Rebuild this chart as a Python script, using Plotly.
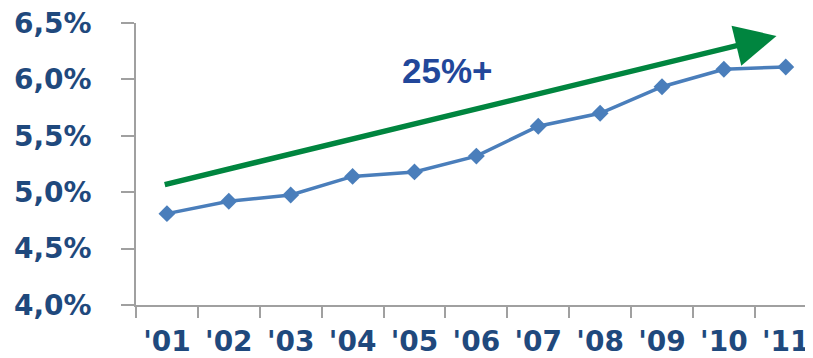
import plotly.graph_objects as go

years = ["'01", "'02", "'03", "'04", "'05", "'06", "'07", "'08", "'09", "'10", "'11"]
share = [4.81, 4.92, 4.975, 5.14, 5.18, 5.32, 5.585, 5.70, 5.935, 6.09, 6.11]
y_tickvals = [4.0, 4.5, 5.0, 5.5, 6.0, 6.5]
y_ticktext = ["4,0%", "4,5%", "5,0%", "5,5%", "6,0%", "6,5%"]

arrow_tail = (-0.06, 5.064)
arrow_tip = (9.85, 6.385)
label_text = "25%+"
label_pos = (4.54, 6.08)

label_color = "#1F497D"
fig = go.Figure()
fig.add_trace(go.Scatter(
    x=years, y=share, mode="lines+markers",
    line=dict(color="#4A7EBB", width=3.5),
    marker=dict(symbol="diamond", size=13, color="#4A7EBB"),
    showlegend=False, hoverinfo="skip", cliponaxis=False,
))

fig.add_annotation(
    x=arrow_tip[0], y=arrow_tip[1], ax=arrow_tail[0], ay=arrow_tail[1],
    xref="x", yref="y", axref="x", ayref="y",
    showarrow=True, arrowhead=2, arrowsize=1.5, arrowwidth=5.5,
    arrowcolor="#00853F", standoff=0, text="",
)
fig.add_annotation(
    x=label_pos[0], y=label_pos[1], xref="x", yref="y", showarrow=False,
    text="<b>" + label_text + "</b>",
    font=dict(family="Liberation Sans, Arial", size=35, color="#22479A"),
)

fig.update_xaxes(
    type="category", range=[-0.5, 10.44], automargin=False,
    showline=True, linecolor="#A0A0A0", linewidth=1.5,
    ticks="outside", ticklen=11, tickcolor="#A0A0A0", tickwidth=1.5,
    tickson="boundaries", showgrid=False, zeroline=False,
    tickfont=dict(family="DejaVu Sans", size=28, color=label_color, weight="bold"),
    ticklabelstandoff=11, ticklabeloverflow="allow",
)
fig.update_yaxes(
    range=[4.0, 6.5], tickvals=y_tickvals, ticktext=y_ticktext, automargin=False,
    showline=True, linecolor="#A0A0A0", linewidth=1.5,
    ticks="outside", ticklen=13, tickcolor="#A0A0A0", tickwidth=1.5,
    showgrid=False, zeroline=False,
    tickfont=dict(family="DejaVu Sans", size=28, color=label_color, weight="bold"),
    ticklabelstandoff=24, ticklabeloverflow="allow",
)
# the page body adds an 8px offset, so the figure is 8px smaller on each side
fig.update_layout(
    width=805, height=350,
    margin=dict(l=128, r=0, t=15, b=53),
    paper_bgcolor="white", plot_bgcolor="white",
    font=dict(family="DejaVu Sans"),
)
fig.write_html("out.html")
